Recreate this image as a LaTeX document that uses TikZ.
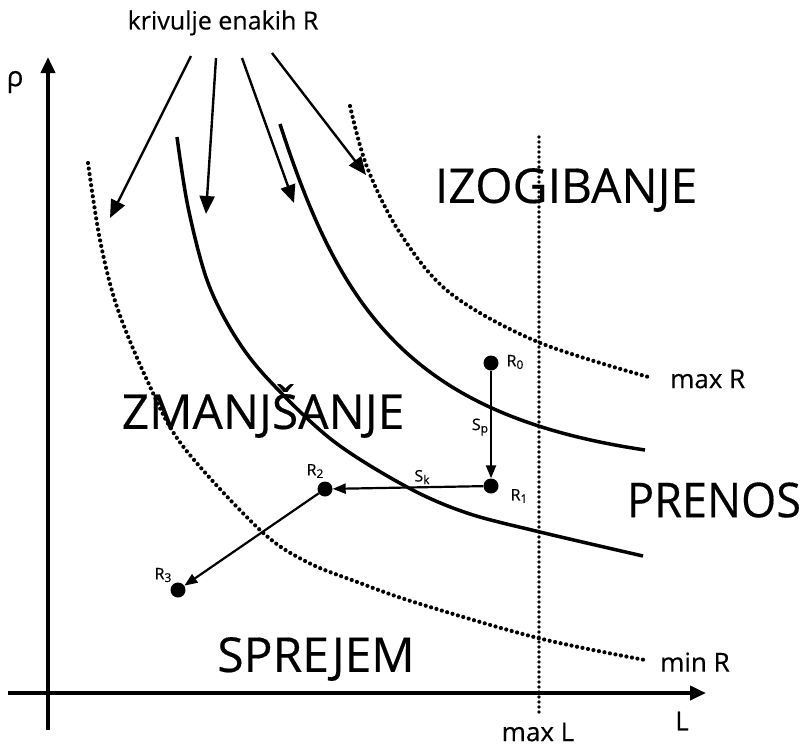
\documentclass[tikz,border=0pt]{standalone}
\usepackage{fontspec}
\setmainfont{Open Sans}[FakeBold=0.35]
\usetikzlibrary{arrows.meta}
\begin{document}
\begin{tikzpicture}[x=1pt,y=-1pt,
  axisline/.style={line width=3.8pt,-{Triangle[length=16pt,width=14pt]}},
  curve/.style={line width=3.5pt},
  dotcurve/.style={line width=4.2pt,dash pattern=on 0pt off 5.6pt,line cap=round},
  limitline/.style={line width=3.6pt,dash pattern=on 0pt off 5pt,line cap=round},
  pointer/.style={line width=2.4pt,-{Triangle[length=18pt,width=15pt]}},
  stepline/.style={line width=2.2pt,-{Triangle[length=13pt,width=10pt]}},
  pt/.style={circle,fill=black,inner sep=0pt,minimum size=15pt},
  region/.style={inner sep=0pt,font=\fontsize{48}{50}\selectfont},
  lbl/.style={inner sep=0pt,font=\fontsize{26}{28}\selectfont},
  ptlbl/.style={inner sep=0pt,font=\fontsize{16}{17}\selectfont},
]
\useasboundingbox (0,0) rectangle (806,748);

% axes
\coordinate (ybot) at (48,730);
\coordinate (ytop) at (48,57);
\coordinate (xleft) at (8,693);
\coordinate (xright) at (706,693);
\draw[axisline] (ybot) -- (ytop);
\draw[axisline] (xleft) -- (xright);
\node[lbl,font=\fontsize{28}{30}\selectfont] (rho) at (15,82) {ρ};
\node[lbl] (Lax) at (682,721) {L};

% max L line
\coordinate (mlt) at (539,137);
\coordinate (mlb) at (539,712);
\draw[limitline] (mlt) -- (mlb);
\node[lbl] (maxL) at (538,732) {max L};

% curves
\draw[dotcurve] plot[smooth,tension=0.55] coordinates {(88,163) (100,240) (117,307) (147,380) (182,445) (260,530) (307,562) (360,583) (417,603) (538,638) (645,660)};
\draw[curve] plot[smooth,tension=0.55] coordinates {(177,137) (188,207) (207,280) (233,333) (267,378) (332,440) (407,487) (467,513) (540,532) (643,556)};
\draw[curve] (280,124) .. controls (340,310) and (410,415) .. (645,450);
\draw[dotcurve] plot[smooth,tension=0.55] coordinates {(350,106) (367,167) (400,233) (450,293) (538,342) (652,378)};

\node[lbl,anchor=west] (maxR) at (670,379) {max R};
\node[lbl,anchor=west] (minR) at (660,662) {min R};

% top label and pointers
\node[inner sep=0pt,font=\fontsize{25}{27}\selectfont] (krv) at (223,23) {krivulje enakih R};
\coordinate (s1) at (191,56);
\coordinate (s2) at (216,58);
\coordinate (s3) at (242,58);
\coordinate (s4) at (272,53);
\coordinate (t1) at (110,218);
\coordinate (t2) at (206,214);
\coordinate (t3) at (294,203);
\coordinate (t4) at (366,175);
\draw[pointer] (s1) -- (t1);
\draw[pointer] (s2) -- (t2);
\draw[pointer] (s3) -- (t3);
\draw[pointer] (s4) -- (t4);

% region labels
\node[region] (izo) at (566,190) {IZOGIBANJE};
\node[region] (zma) at (263,411) {ZMANJŠANJE};
\node[region] (pre) at (714,500) {\scalebox{0.94}[1]{PRENOS}};
\node[region] (spr) at (316,659) {SPREJEM};

% points
\node[pt] (R0) at (491,363) {};
\node[pt] (R1) at (491,486) {};
\node[pt] (R2) at (325,489) {};
\node[pt] (R3) at (178,590) {};
\draw[stepline] (R0) -- (R1);
\draw[stepline] (R1) -- (R2);
\draw[stepline] (R2) -- (R3);

\node[ptlbl] (lR0) at (515,362) {R\raisebox{-2.5pt}{\fontsize{12}{13}\selectfont 0}};
\node[ptlbl] (lR1) at (519,496) {R\raisebox{-2.5pt}{\fontsize{12}{13}\selectfont 1}};
\node[ptlbl] (lR2) at (315,471) {R\raisebox{-2.5pt}{\fontsize{12}{13}\selectfont 2}};
\node[ptlbl] (lR3) at (163,575) {R\raisebox{-2.5pt}{\fontsize{12}{13}\selectfont 3}};
\node[ptlbl] (Sp) at (480,427) {S\raisebox{-2.5pt}{\fontsize{12}{13}\selectfont p}};
\node[ptlbl] (Sk) at (422,477) {S\raisebox{-2.5pt}{\fontsize{12}{13}\selectfont k}};
\end{tikzpicture}
\end{document}
